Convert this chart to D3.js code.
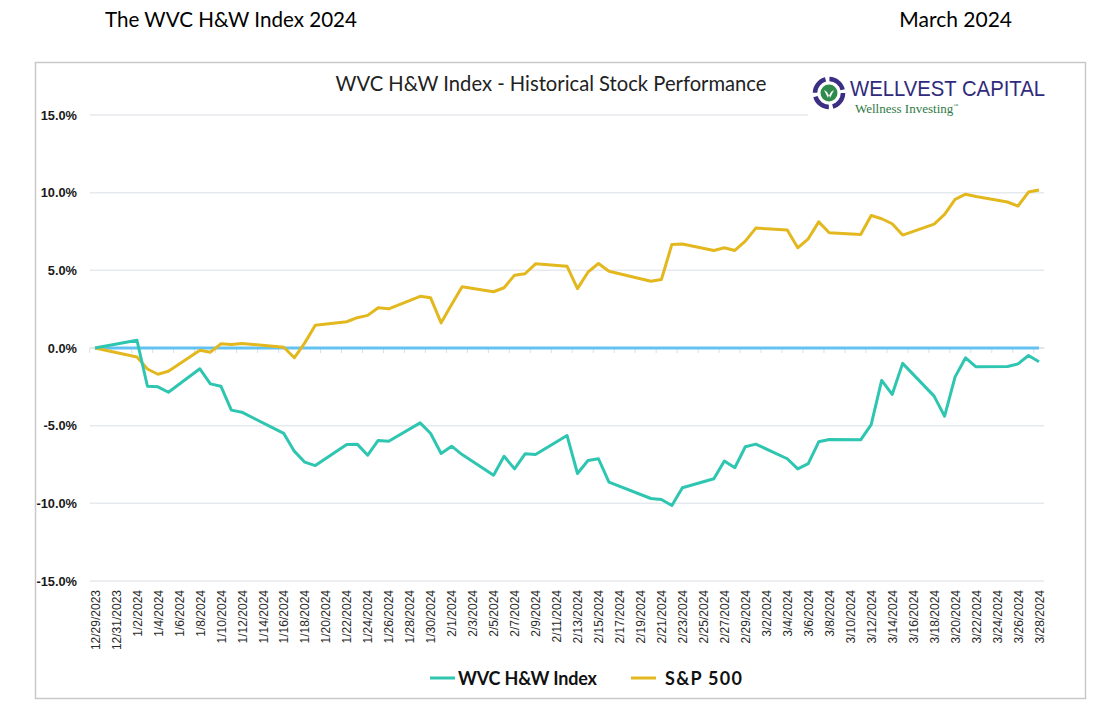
<!DOCTYPE html>
<html><head><meta charset="utf-8">
<script src="https://cdn.jsdelivr.net/npm/d3@7"></script>
<style>body{margin:0;background:#fff;}svg{display:block;}</style>
</head><body>
<svg id="c" width="1119" height="721"></svg>
<script>
const dates = ["12/29/2023","1/2/2024","1/3/2024","1/4/2024","1/5/2024","1/8/2024","1/9/2024","1/10/2024","1/11/2024","1/12/2024","1/16/2024","1/17/2024","1/18/2024","1/19/2024","1/22/2024","1/23/2024","1/24/2024","1/25/2024","1/26/2024","1/29/2024","1/30/2024","1/31/2024","2/1/2024","2/2/2024","2/5/2024","2/6/2024","2/7/2024","2/8/2024","2/9/2024","2/12/2024","2/13/2024","2/14/2024","2/15/2024","2/16/2024","2/20/2024","2/21/2024","2/22/2024","2/23/2024","2/26/2024","2/27/2024","2/28/2024","2/29/2024","3/1/2024","3/4/2024","3/5/2024","3/6/2024","3/7/2024","3/8/2024","3/11/2024","3/12/2024","3/13/2024","3/14/2024","3/15/2024","3/18/2024","3/19/2024","3/20/2024","3/21/2024","3/22/2024","3/25/2024","3/26/2024","3/27/2024","3/28/2024"];
const wvc = [0,0.5,-2.46,-2.5,-2.85,-1.34,-2.31,-2.46,-4.0,-4.13,-5.5,-6.64,-7.35,-7.57,-6.21,-6.19,-6.9,-5.95,-6.0,-4.82,-5.5,-6.79,-6.32,-6.86,-8.19,-6.97,-7.78,-6.81,-6.86,-5.63,-8.08,-7.24,-7.13,-8.64,-9.69,-9.75,-10.14,-9.0,-8.42,-7.28,-7.71,-6.36,-6.19,-7.13,-7.78,-7.44,-6.04,-5.89,-5.91,-4.93,-2.09,-2.99,-0.99,-3.1,-4.39,-1.86,-0.63,-1.21,-1.19,-1.02,-0.48,-0.89];
const sp500 = [0,-0.58,-1.35,-1.69,-1.5,-0.14,-0.27,0.27,0.23,0.29,0.05,-0.63,0.33,1.47,1.69,1.95,2.1,2.59,2.52,3.33,3.23,1.62,2.8,3.94,3.62,3.88,4.69,4.78,5.42,5.27,3.82,4.88,5.44,4.94,4.3,4.41,6.67,6.69,6.28,6.45,6.28,6.88,7.72,7.59,6.45,7.03,8.12,7.42,7.31,8.53,8.32,8.0,7.27,7.98,8.6,9.57,9.9,9.75,9.4,9.14,10.04,10.17];
const baseline = dates.map(() => 0);
const tickLabels = ["12/29/2023","12/31/2023","1/2/2024","1/4/2024","1/6/2024","1/8/2024","1/10/2024","1/12/2024","1/14/2024","1/16/2024","1/18/2024","1/20/2024","1/22/2024","1/24/2024","1/26/2024","1/28/2024","1/30/2024","2/1/2024","2/3/2024","2/5/2024","2/7/2024","2/9/2024","2/11/2024","2/13/2024","2/15/2024","2/17/2024","2/19/2024","2/21/2024","2/23/2024","2/25/2024","2/27/2024","2/29/2024","3/2/2024","3/4/2024","3/6/2024","3/8/2024","3/10/2024","3/12/2024","3/14/2024","3/16/2024","3/18/2024","3/20/2024","3/22/2024","3/24/2024","3/26/2024","3/28/2024"];
const yTicks = [15,10,5,0,-5,-10,-15];

const parse = d3.utcParse("%m/%d/%Y");
const DAY = 864e5;
const svg = d3.select("#c");

// outer frame
svg.append("rect").attr("x",35.5).attr("y",62.5).attr("width",1050).attr("height",636)
  .attr("fill","none").attr("stroke","#c9c9c9").attr("stroke-width",1.5);

// header
svg.append("text").attr("x",105).attr("y",27).attr("font-family","Lato, 'Open Sans', sans-serif")
  .attr("font-size",20.6).attr("fill","#000").text("The WVC H&W Index 2024");
svg.append("text").attr("x",1012).attr("y",27).attr("text-anchor","end").attr("font-family","Lato, 'Open Sans', sans-serif")
  .attr("font-size",21).attr("fill","#000").text("March 2024");

const t0 = parse(dates[0]).getTime(), t1 = parse(dates[dates.length-1]).getTime();
const x = d3.scaleUtc().domain([new Date(t0 - DAY/2), new Date(t1 + DAY/2)]).range([89.75, 1044.25]);
const y = d3.scaleLinear().domain([-15, 15]).range([581, 115]);

// grid
const g = svg.append("g");
g.selectAll("line.grid").data(yTicks).join("line")
  .attr("x1", x.range()[0]).attr("x2", x.range()[1])
  .attr("y1", d => y(d)).attr("y2", d => y(d))
  .attr("stroke","#e6e9ee").attr("stroke-width",1.5);

// y axis labels
const yAxis = d3.axisLeft(y).tickValues(yTicks).tickFormat(d => d.toFixed(1) + "%").tickSize(0).tickPadding(0);
svg.append("g").attr("transform","translate(77,0)").call(yAxis)
  .call(s => s.select(".domain").remove())
  .selectAll("text").attr("font-family","'Liberation Sans', Arial, sans-serif").attr("font-weight","bold")
  .attr("font-size",12.8).attr("fill","#1a1a1a");

// x axis (crosses at 0) ticks
const tickDates = tickLabels.map(parse);
const xAxisG = svg.append("g").attr("transform", `translate(0,${y(0)})`);
xAxisG.append("line").attr("x1", x.range()[0]).attr("x2", x.range()[1]).attr("y1",0).attr("y2",0)
  .attr("stroke","#d9dde3").attr("stroke-width",1);
xAxisG.selectAll("line.tk").data(tickDates).join("line")
  .attr("x1", d => x(new Date(d.getTime() - DAY/2))).attr("x2", d => x(new Date(d.getTime() - DAY/2)))
  .attr("y1",0).attr("y2",5).attr("stroke","#d9dde3").attr("stroke-width",1);

// x labels (low position)
const xAxis = d3.axisBottom(x).tickValues(tickDates).tickFormat((d,i) => tickLabels[i]).tickSize(0).tickPadding(0);
const xl = svg.append("g").attr("transform","translate(0,590)").call(xAxis);
xl.select(".domain").remove();
xl.selectAll("text").attr("transform","rotate(-90)").attr("text-anchor","end")
  .attr("x",0).attr("y",0).attr("dy","0.35em").attr("dx",0)
  .attr("font-family","'Liberation Sans', Arial, sans-serif").attr("font-size",12).attr("fill","#2a2a2a");

// lines
const line = d3.line().x((d,i) => x(parse(dates[i]))).y(d => y(d));
svg.append("path").datum(baseline).attr("d", line).attr("fill","none").attr("stroke","#62c3f3").attr("stroke-width",3);
svg.append("path").datum(sp500).attr("d", line).attr("fill","none").attr("stroke","#e3b81f").attr("stroke-width",3).attr("stroke-linejoin","round");
svg.append("path").datum(wvc).attr("d", line).attr("fill","none").attr("stroke","#2ec6b1").attr("stroke-width",3).attr("stroke-linejoin","round");

// title
svg.append("text").attr("x",551).attr("y",91).attr("text-anchor","middle")
  .attr("font-family","Lato, 'Open Sans', sans-serif").attr("font-size",20.2).attr("fill","#222")
  .text("WVC H&W Index - Historical Stock Performance");

// logo
const logo = svg.append("g");
logo.append("rect").attr("x",808).attr("y",70).attr("width",238).attr("height",48).attr("fill","#fff");
const em = logo.append("g").attr("transform","translate(829,93)");
em.append("circle").attr("r",14).attr("fill","none").attr("stroke","#3b2f85").attr("stroke-width",4.5)
  .attr("stroke-dasharray","18 4");
em.append("circle").attr("r",8.5).attr("fill","#2f8a4c");
em.append("path").attr("d","M-5,-3 L-1,5 L0,1 L1,5 L5,-3 L2,-1 L0,3 L-2,-1 Z").attr("fill","#fff");
logo.append("text").attr("x",850).attr("y",96).attr("font-family","'Liberation Sans', Arial, sans-serif")
  .attr("font-size",22.5).attr("fill","#2f2a7c").attr("textLength",195).attr("lengthAdjust","spacingAndGlyphs").text("WELLVEST CAPITAL");
const wi = logo.append("text").attr("x",855).attr("y",113).attr("font-family","'Liberation Serif', 'Times New Roman', serif")
  .attr("font-size",13).attr("fill","#2e7a45");
wi.append("tspan").text("Wellness Investing");
wi.append("tspan").attr("dy",-6).attr("font-size",5).text("™");

// legend
const legend = [{name:"WVC H&W Index", color:"#2ec6b1", x:430, len:139}, {name:"S&P 500", color:"#e3b81f", x:631, len:77}];
const lg = svg.selectAll("g.lg").data(legend).join("g").attr("transform", d => `translate(${d.x},678)`);
lg.append("line").attr("x1",0).attr("x2",25).attr("y1",0).attr("y2",0).attr("stroke", d => d.color).attr("stroke-width",3);
lg.append("text").attr("x", (d,i) => i === 0 ? 28 : 34).attr("y",6.5).attr("font-family","Lato, 'Open Sans', sans-serif")
  .attr("font-weight","bold").attr("font-size",18).attr("fill","#111")
  .attr("textLength", d => d.len).attr("lengthAdjust","spacing").text(d => d.name);
</script>
</body></html>
